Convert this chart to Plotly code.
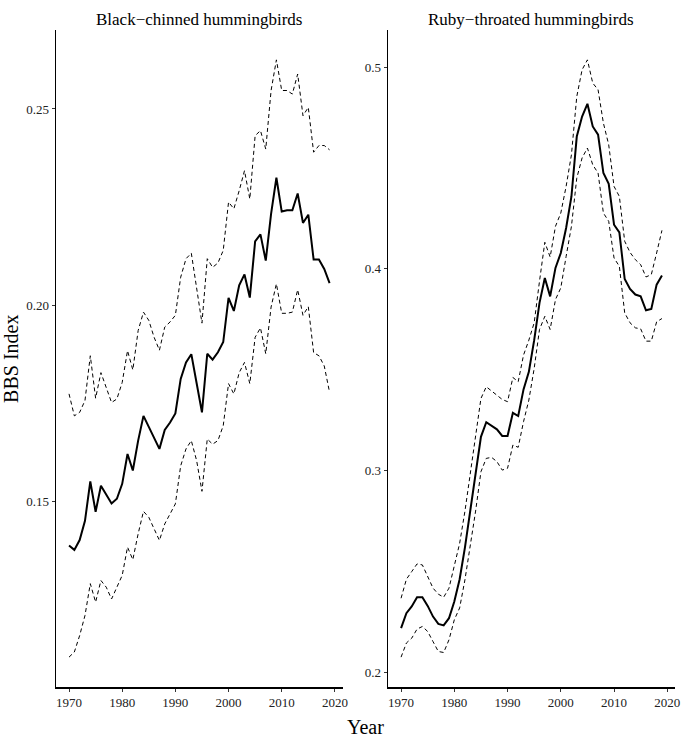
import plotly.graph_objects as go

years = list(range(1970, 2020))

bc_mean = [0.1389, 0.1378, 0.1403, 0.1452, 0.1552, 0.1475, 0.1541, 0.1519, 0.1496, 0.1508,
           0.1546, 0.1622, 0.1580, 0.1656, 0.1719, 0.1691, 0.1663, 0.1635, 0.1683, 0.1702,
           0.1725, 0.1813, 0.1855, 0.1876, 0.1802, 0.1728, 0.1877, 0.1862, 0.1881, 0.1907,
           0.2019, 0.1986, 0.2051, 0.2079, 0.2020, 0.2163, 0.2181, 0.2114, 0.2233, 0.2325,
           0.2239, 0.2242, 0.2242, 0.2285, 0.2210, 0.2231, 0.2117, 0.2117, 0.2093, 0.2057]
bc_upper = [0.1775, 0.1719, 0.1728, 0.1758, 0.1872, 0.1764, 0.1829, 0.1791, 0.1753, 0.1762,
            0.1804, 0.1885, 0.1836, 0.1936, 0.1983, 0.1962, 0.1919, 0.1886, 0.1945, 0.1958,
            0.1975, 0.2072, 0.2119, 0.2133, 0.2047, 0.1955, 0.2119, 0.2097, 0.2108, 0.2140,
            0.2263, 0.2246, 0.2292, 0.2343, 0.2271, 0.2432, 0.2445, 0.2398, 0.2547, 0.2625,
            0.2547, 0.2547, 0.2538, 0.2589, 0.2483, 0.2504, 0.2390, 0.2407, 0.2407, 0.2396]
bc_lower = [0.1105, 0.1118, 0.1160, 0.1211, 0.1292, 0.1245, 0.1300, 0.1283, 0.1253, 0.1283,
            0.1313, 0.1385, 0.1353, 0.1419, 0.1476, 0.1461, 0.1431, 0.1402, 0.1444, 0.1469,
            0.1495, 0.1592, 0.1635, 0.1656, 0.1605, 0.1527, 0.1660, 0.1647, 0.1656, 0.1694,
            0.1801, 0.1775, 0.1829, 0.1855, 0.1801, 0.1919, 0.1943, 0.1877, 0.1996, 0.2055,
            0.1980, 0.1980, 0.1983, 0.2040, 0.1975, 0.1997, 0.1880, 0.1872, 0.1846, 0.1779]

rt_mean = [0.2220, 0.2294, 0.2327, 0.2373, 0.2373, 0.2330, 0.2277, 0.2241, 0.2233, 0.2269,
           0.2352, 0.2462, 0.2620, 0.2800, 0.2990, 0.3168, 0.3240, 0.3221, 0.3205, 0.3172,
           0.3172, 0.3287, 0.3271, 0.3403, 0.3490, 0.3647, 0.3832, 0.3955, 0.3864, 0.4005,
           0.4079, 0.4203, 0.4359, 0.4656, 0.4755, 0.4818, 0.4706, 0.4665, 0.4475, 0.4422,
           0.4219, 0.4181, 0.3950, 0.3901, 0.3873, 0.3864, 0.3795, 0.3802, 0.3922, 0.3967]
rt_upper = [0.2368, 0.2462, 0.2500, 0.2538, 0.2533, 0.2475, 0.2418, 0.2388, 0.2373, 0.2418,
            0.2525, 0.2640, 0.2800, 0.2980, 0.3180, 0.3358, 0.3416, 0.3396, 0.3375, 0.3353,
            0.3342, 0.3462, 0.3441, 0.3573, 0.3647, 0.3733, 0.3939, 0.4132, 0.4059, 0.4211,
            0.4277, 0.4409, 0.4566, 0.4854, 0.4987, 0.5036, 0.4921, 0.4888, 0.4723, 0.4615,
            0.4409, 0.4359, 0.4137, 0.4082, 0.4046, 0.4021, 0.3960, 0.3972, 0.4079, 0.4191]
rt_lower = [0.2076, 0.2146, 0.2170, 0.2215, 0.2228, 0.2203, 0.2153, 0.2104, 0.2099, 0.2162,
            0.2261, 0.2320, 0.2460, 0.2620, 0.2800, 0.2995, 0.3061, 0.3066, 0.3045, 0.3003,
            0.3012, 0.3127, 0.3116, 0.3243, 0.3350, 0.3507, 0.3700, 0.3765, 0.3700, 0.3848,
            0.3906, 0.4062, 0.4211, 0.4450, 0.4550, 0.4599, 0.4516, 0.4475, 0.4277, 0.4236,
            0.4054, 0.4013, 0.3782, 0.3733, 0.3708, 0.3703, 0.3642, 0.3642, 0.3738, 0.3754]

titles = ["Black\u2212chinned hummingbirds", "Ruby\u2212throated hummingbirds"]
x_ticks = [1970, 1980, 1990, 2000, 2010, 2020]
bc_yticks = [0.15, 0.20, 0.25]
bc_yticklabels = ["0.15", "0.20", "0.25"]
rt_yticks = [0.2, 0.3, 0.4, 0.5]
rt_yticklabels = ["0.2", "0.3", "0.4", "0.5"]

FONT = "Liberation Serif"
fig = go.Figure()

def add_panel(mean, upper, lower, xa, ya):
    for vals, dash, w in [(upper, "4px,3px", 1), (lower, "4px,3px", 1), (mean, "solid", 2)]:
        fig.add_trace(go.Scatter(x=years, y=vals, mode="lines", xaxis=xa, yaxis=ya,
                                 line=dict(color="black", width=w, dash=dash),
                                 showlegend=False, hoverinfo="skip"))

add_panel(bc_mean, bc_upper, bc_lower, "x", "y")
add_panel(rt_mean, rt_upper, rt_lower, "x2", "y2")

axis_common = dict(showgrid=False, zeroline=False, showline=True, linecolor="black",
                   linewidth=1.5, ticks="outside", ticklen=3, tickwidth=1, tickcolor="#333",
                   tickfont=dict(family=FONT, size=13, color="#222"))

def yr_range(lo, hi):
    r = hi - lo
    return [lo - 0.05 * r, hi + 0.05 * r]

fig.update_layout(
    width=685, height=740,
    margin=dict(l=56, r=5, t=30, b=53),
    paper_bgcolor="white", plot_bgcolor="white",
    font=dict(family=FONT, color="black"),
    hovermode=False,
    xaxis=dict(domain=[0, 0.463], range=[1967.55, 2021.45], tickvals=x_ticks,
               anchor="y", **axis_common),
    yaxis=dict(domain=[0, 1], range=yr_range(min(bc_lower), max(bc_upper)),
               tickvals=bc_yticks, ticktext=bc_yticklabels, anchor="x", **axis_common),
    xaxis2=dict(domain=[0.5364, 1], range=[1967.55, 2021.45], tickvals=x_ticks,
                anchor="y2", **axis_common),
    yaxis2=dict(domain=[0, 1], range=yr_range(min(rt_lower), max(rt_upper)),
                tickvals=rt_yticks, ticktext=rt_yticklabels, anchor="x2", **axis_common),
)

fig.add_annotation(text=titles[0], x=0.2315, y=1.016, xref="paper", yref="paper",
                   showarrow=False, font=dict(family=FONT, size=17, color="black"),
                   xanchor="center", yanchor="middle")
fig.add_annotation(text=titles[1], x=0.768, y=1.016, xref="paper", yref="paper",
                   showarrow=False, font=dict(family=FONT, size=17, color="black"),
                   xanchor="center", yanchor="middle")
fig.add_annotation(text="BBS Index", x=-0.0737, y=0.5, xref="paper", yref="paper",
                   showarrow=False, textangle=-90, font=dict(family=FONT, size=20, color="black"),
                   xanchor="center", yanchor="middle")
fig.add_annotation(text="Year", x=0.5, y=-0.061, xref="paper", yref="paper",
                   showarrow=False, font=dict(family=FONT, size=20, color="black"),
                   xanchor="center", yanchor="middle")

fig.write_html("out.html", config={"displayModeBar": False, "staticPlot": True},
               post_script="document.body.style.margin='0';document.body.style.overflow='hidden';")
